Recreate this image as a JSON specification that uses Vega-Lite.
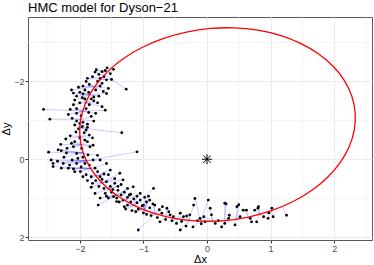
{
"$schema": "https://vega.github.io/schema/vega-lite/v6.json",
"width": 344,
"height": 223,
"autosize": "none",
"padding": {"left": 28, "top": 17, "right": 2, "bottom": 25},
"background": "white",
"title": {"text": "HMC model for Dyson−21", "anchor": "start", "frame": "group", "fontSize": 13, "font": "Liberation Sans", "fontWeight": "normal", "color": "black", "offset": 2},
"config": {
  "view": {"stroke": "#595959", "strokeWidth": 1},
  "font": "Liberation Sans",
  "axis": {"domain": false, "gridColor": "#ebebeb", "gridWidth": 1, "tickColor": "#333333", "tickSize": 3, "tickWidth": 1, "labelColor": "#4d4d4d", "labelFontSize": 9, "labelPadding": 1, "titleFontSize": 11, "titleFontWeight": "normal", "titleColor": "black", "labelOverlap": false}
},
"datasets": {
  "gx": [{"x":-2.5},{"x":-1.5},{"x":-0.5},{"x":0.5},{"x":1.5},{"x":2.5}],
  "gy": [{"y":-3},{"y":-1},{"y":1}],
  "obs": [
    {"x":-1.76,"y":-2.24,"u":-1.566,"v":-2.246},
    {"x":-1.47,"y":-2.31,"u":-1.516,"v":-2.314},
    {"x":-1.27,"y":-1.80,"u":-1.606,"v":-2.170},
    {"x":-1.68,"y":-2.08,"u":-1.666,"v":-2.055},
    {"x":-1.58,"y":-2.04,"u":-1.666,"v":-2.055},
    {"x":-1.63,"y":-1.74,"u":-1.766,"v":-1.864},
    {"x":-1.55,"y":-1.82,"u":-1.766,"v":-1.864},
    {"x":-2.13,"y":-1.78,"u":-1.766,"v":-1.864},
    {"x":-2.08,"y":-1.52,"u":-1.837,"v":-1.658},
    {"x":-1.58,"y":-1.69,"u":-1.837,"v":-1.658},
    {"x":-1.70,"y":-2.18,"u":-1.606,"v":-2.170},
    {"x":-1.65,"y":-2.25,"u":-1.566,"v":-2.246},
    {"x":-1.80,"y":-2.12,"u":-1.666,"v":-2.055},
    {"x":-1.62,"y":-2.12,"u":-1.606,"v":-2.170},
    {"x":-1.52,"y":-2.20,"u":-1.566,"v":-2.246},
    {"x":-1.72,"y":-2.00,"u":-1.666,"v":-2.055},
    {"x":-1.90,"y":-2.00,"u":-1.766,"v":-1.864},
    {"x":-1.95,"y":-1.88,"u":-1.766,"v":-1.864},
    {"x":-1.85,"y":-1.92,"u":-1.766,"v":-1.864},
    {"x":-2.00,"y":-1.72,"u":-1.837,"v":-1.658},
    {"x":-1.92,"y":-1.78,"u":-1.837,"v":-1.658},
    {"x":-1.75,"y":-1.78,"u":-1.766,"v":-1.864},
    {"x":-1.68,"y":-1.88,"u":-1.766,"v":-1.864},
    {"x":-2.05,"y":-1.62,"u":-1.837,"v":-1.658},
    {"x":-1.96,"y":-1.58,"u":-1.908,"v":-1.451},
    {"x":-1.78,"y":-1.60,"u":-1.837,"v":-1.658},
    {"x":-1.70,"y":-1.62,"u":-1.837,"v":-1.658},
    {"x":-1.86,"y":-1.72,"u":-1.837,"v":-1.658},
    {"x":-1.60,"y":-2.28,"u":-1.566,"v":-2.246},
    {"x":-1.50,"y":-2.05,"u":-1.666,"v":-2.055},
    {"x":-1.88,"y":-2.08,"u":-1.666,"v":-2.055},
    {"x":-2.02,"y":-1.85,"u":-1.766,"v":-1.864},
    {"x":-1.65,"y":-1.95,"u":-1.766,"v":-1.864},
    {"x":-1.82,"y":-1.55,"u":-1.908,"v":-1.451},
    {"x":-2.57,"y":-1.28,"u":-1.947,"v":-1.237},
    {"x":-2.47,"y":-1.03,"u":-1.986,"v":-1.022},
    {"x":-1.34,"y":-0.68,"u":-1.993,"v":-0.806},
    {"x":-1.60,"y":-1.26,"u":-1.947,"v":-1.237},
    {"x":-1.72,"y":-1.45,"u":-1.908,"v":-1.451},
    {"x":-1.65,"y":-1.35,"u":-1.908,"v":-1.451},
    {"x":-1.75,"y":-1.18,"u":-1.947,"v":-1.237},
    {"x":-2.10,"y":-1.40,"u":-1.908,"v":-1.451},
    {"x":-2.15,"y":-1.28,"u":-1.947,"v":-1.237},
    {"x":-2.05,"y":-1.18,"u":-1.947,"v":-1.237},
    {"x":-1.90,"y":-1.30,"u":-1.947,"v":-1.237},
    {"x":-1.85,"y":-1.40,"u":-1.908,"v":-1.451},
    {"x":-2.00,"y":-1.45,"u":-1.908,"v":-1.451},
    {"x":-1.82,"y":-1.10,"u":-1.986,"v":-1.022},
    {"x":-2.12,"y":-1.05,"u":-1.986,"v":-1.022},
    {"x":-2.05,"y":-0.98,"u":-1.986,"v":-1.022},
    {"x":-1.95,"y":-0.95,"u":-1.986,"v":-1.022},
    {"x":-1.88,"y":-0.90,"u":-1.993,"v":-0.806},
    {"x":-2.08,"y":-0.88,"u":-1.993,"v":-0.806},
    {"x":-1.96,"y":-0.84,"u":-1.993,"v":-0.806},
    {"x":-2.02,"y":-0.78,"u":-1.993,"v":-0.806},
    {"x":-1.90,"y":-0.75,"u":-1.993,"v":-0.806},
    {"x":-1.93,"y":-0.68,"u":-1.999,"v":-0.589},
    {"x":-2.06,"y":-0.70,"u":-1.999,"v":-0.589},
    {"x":-1.85,"y":-0.62,"u":-1.999,"v":-0.589},
    {"x":-1.98,"y":-1.12,"u":-1.986,"v":-1.022},
    {"x":-1.78,"y":-0.98,"u":-1.986,"v":-1.022},
    {"x":-2.18,"y":-1.15,"u":-1.947,"v":-1.237},
    {"x":-1.92,"y":-1.55,"u":-1.908,"v":-1.451},
    {"x":-1.78,"y":-1.50,"u":-1.908,"v":-1.451},
    {"x":-2.00,"y":-0.92,"u":-1.993,"v":-0.806},
    {"x":-1.88,"y":-0.82,"u":-1.993,"v":-0.806},
    {"x":-2.49,"y":-0.18,"u":-1.947,"v":-0.165},
    {"x":-2.45,"y":0.02,"u":-1.889,"v":0.037},
    {"x":-2.42,"y":0.11,"u":-1.889,"v":0.037},
    {"x":-2.42,"y":0.19,"u":-1.830,"v":0.238},
    {"x":-2.34,"y":-0.24,"u":-1.947,"v":-0.165},
    {"x":-2.29,"y":-0.22,"u":-1.947,"v":-0.165},
    {"x":-2.21,"y":-0.16,"u":-1.947,"v":-0.165},
    {"x":-2.29,"y":0.23,"u":-1.830,"v":0.238},
    {"x":-2.18,"y":0.23,"u":-1.830,"v":0.238},
    {"x":-2.26,"y":0.11,"u":-1.889,"v":0.037},
    {"x":-2.16,"y":0.15,"u":-1.889,"v":0.037},
    {"x":-2.05,"y":0.11,"u":-1.889,"v":0.037},
    {"x":-2.05,"y":-0.15,"u":-1.947,"v":-0.165},
    {"x":-2.10,"y":-0.32,"u":-1.973,"v":-0.377},
    {"x":-2.13,"y":-0.41,"u":-1.973,"v":-0.377},
    {"x":-2.03,"y":-0.02,"u":-1.947,"v":-0.165},
    {"x":-1.92,"y":0.11,"u":-1.889,"v":0.037},
    {"x":-1.87,"y":-0.11,"u":-1.947,"v":-0.165},
    {"x":-1.79,"y":0.02,"u":-1.889,"v":0.037},
    {"x":-1.76,"y":0.23,"u":-1.830,"v":0.238},
    {"x":-1.97,"y":-0.28,"u":-1.973,"v":-0.377},
    {"x":-2.08,"y":-0.45,"u":-1.973,"v":-0.377},
    {"x":-1.92,"y":-0.49,"u":-1.999,"v":-0.589},
    {"x":-1.99,"y":0.32,"u":-1.830,"v":0.238},
    {"x":-2.08,"y":0.32,"u":-1.830,"v":0.238},
    {"x":-1.84,"y":-0.32,"u":-1.973,"v":-0.377},
    {"x":-1.79,"y":-0.36,"u":-1.973,"v":-0.377},
    {"x":-1.68,"y":0.02,"u":-1.889,"v":0.037},
    {"x":-1.58,"y":0.11,"u":-1.830,"v":0.238},
    {"x":-1.10,"y":-0.19,"u":-1.889,"v":0.037},
    {"x":-2.25,"y":-0.05,"u":-1.947,"v":-0.165},
    {"x":-2.12,"y":0.02,"u":-1.889,"v":0.037},
    {"x":-1.98,"y":0.20,"u":-1.830,"v":0.238},
    {"x":-2.00,"y":-0.55,"u":-1.999,"v":-0.589},
    {"x":-2.15,"y":-0.60,"u":-1.999,"v":-0.589},
    {"x":-1.88,"y":-0.45,"u":-1.973,"v":-0.377},
    {"x":-2.35,"y":0.05,"u":-1.889,"v":0.037},
    {"x":-2.20,"y":-0.28,"u":-1.973,"v":-0.377},
    {"x":-1.95,"y":-0.05,"u":-1.889,"v":0.037},
    {"x":-1.85,"y":0.15,"u":-1.889,"v":0.037},
    {"x":-2.10,"y":0.25,"u":-1.830,"v":0.238},
    {"x":-1.72,"y":-0.10,"u":-1.947,"v":-0.165},
    {"x":-1.76,"y":0.88,"u":-1.537,"v":0.766},
    {"x":-1.71,"y":1.18,"u":-1.420,"v":0.927},
    {"x":-1.68,"y":1.00,"u":-1.420,"v":0.927},
    {"x":-1.47,"y":0.96,"u":-1.420,"v":0.927},
    {"x":-1.42,"y":1.09,"u":-1.280,"v":1.061},
    {"x":-0.84,"y":0.75,"u":-1.140,"v":1.194},
    {"x":-1.52,"y":0.28,"u":-1.742,"v":0.422},
    {"x":-1.37,"y":0.36,"u":-1.653,"v":0.605},
    {"x":-1.32,"y":0.53,"u":-1.653,"v":0.605},
    {"x":-1.16,"y":0.71,"u":-1.420,"v":0.927},
    {"x":-1.05,"y":0.88,"u":-1.280,"v":1.061},
    {"x":-1.90,"y":0.40,"u":-1.742,"v":0.422},
    {"x":-1.82,"y":0.45,"u":-1.742,"v":0.422},
    {"x":-1.75,"y":0.55,"u":-1.653,"v":0.605},
    {"x":-1.68,"y":0.45,"u":-1.742,"v":0.422},
    {"x":-1.62,"y":0.38,"u":-1.742,"v":0.422},
    {"x":-1.80,"y":0.62,"u":-1.653,"v":0.605},
    {"x":-1.70,"y":0.70,"u":-1.653,"v":0.605},
    {"x":-1.58,"y":0.58,"u":-1.653,"v":0.605},
    {"x":-1.62,"y":0.75,"u":-1.537,"v":0.766},
    {"x":-1.52,"y":0.70,"u":-1.537,"v":0.766},
    {"x":-1.45,"y":0.62,"u":-1.537,"v":0.766},
    {"x":-1.60,"y":0.88,"u":-1.537,"v":0.766},
    {"x":-1.50,"y":0.85,"u":-1.420,"v":0.927},
    {"x":-1.40,"y":0.80,"u":-1.420,"v":0.927},
    {"x":-1.35,"y":0.92,"u":-1.420,"v":0.927},
    {"x":-1.30,"y":0.85,"u":-1.280,"v":1.061},
    {"x":-1.25,"y":0.98,"u":-1.280,"v":1.061},
    {"x":-1.32,"y":1.05,"u":-1.280,"v":1.061},
    {"x":-1.20,"y":1.10,"u":-1.140,"v":1.194},
    {"x":-1.15,"y":1.02,"u":-1.140,"v":1.194},
    {"x":-1.10,"y":1.12,"u":-1.140,"v":1.194},
    {"x":-1.05,"y":1.05,"u":-0.980,"v":1.296},
    {"x":-1.00,"y":1.18,"u":-0.980,"v":1.296},
    {"x":-0.95,"y":1.10,"u":-0.980,"v":1.296},
    {"x":-1.08,"y":1.28,"u":-0.980,"v":1.296},
    {"x":-0.90,"y":1.25,"u":-0.820,"v":1.398},
    {"x":-0.85,"y":1.15,"u":-0.820,"v":1.398},
    {"x":-1.25,"y":1.18,"u":-1.140,"v":1.194},
    {"x":-1.38,"y":1.10,"u":-1.280,"v":1.061},
    {"x":-1.55,"y":1.00,"u":-1.420,"v":0.927},
    {"x":-1.45,"y":0.50,"u":-1.653,"v":0.605},
    {"x":-1.72,"y":0.32,"u":-1.742,"v":0.422},
    {"x":-1.88,"y":0.55,"u":-1.742,"v":0.422},
    {"x":-1.95,"y":0.45,"u":-1.830,"v":0.238},
    {"x":-1.65,"y":0.52,"u":-1.653,"v":0.605},
    {"x":-1.40,"y":0.70,"u":-1.537,"v":0.766},
    {"x":-1.20,"y":0.90,"u":-1.280,"v":1.061},
    {"x":-1.10,"y":0.95,"u":-1.140,"v":1.194},
    {"x":-0.98,"y":0.98,"u":-0.980,"v":1.296},
    {"x":-1.30,"y":1.22,"u":-1.140,"v":1.194},
    {"x":-1.18,"y":1.32,"u":-0.980,"v":1.296},
    {"x":-1.00,"y":1.38,"u":-0.820,"v":1.398},
    {"x":-1.55,"y":0.40,"u":-1.742,"v":0.422},
    {"x":-1.48,"y":0.78,"u":-1.537,"v":0.766},
    {"x":-1.35,"y":0.65,"u":-1.537,"v":0.766},
    {"x":-1.25,"y":0.75,"u":-1.420,"v":0.927},
    {"x":-0.92,"y":0.95,"u":-0.980,"v":1.296},
    {"x":-1.58,"y":0.95,"u":-1.420,"v":0.927},
    {"x":-1.82,"y":0.72,"u":-1.653,"v":0.605},
    {"x":-0.82,"y":1.18,"u":-0.820,"v":1.398},
    {"x":-0.63,"y":1.26,"u":-0.645,"v":1.465},
    {"x":-0.71,"y":1.39,"u":-0.820,"v":1.398},
    {"x":-0.58,"y":1.43,"u":-0.645,"v":1.465},
    {"x":-0.53,"y":1.48,"u":-0.469,"v":1.532},
    {"x":-0.42,"y":1.39,"u":-0.469,"v":1.532},
    {"x":-0.37,"y":1.48,"u":-0.469,"v":1.532},
    {"x":-0.32,"y":1.46,"u":-0.284,"v":1.562},
    {"x":-0.27,"y":1.43,"u":-0.284,"v":1.562},
    {"x":-0.21,"y":1.18,"u":-0.284,"v":1.562},
    {"x":-0.19,"y":1.01,"u":-0.099,"v":1.592},
    {"x":-0.48,"y":1.65,"u":-0.469,"v":1.532},
    {"x":-0.74,"y":1.61,"u":-0.645,"v":1.465},
    {"x":0.02,"y":1.05,"u":-0.099,"v":1.592},
    {"x":0.05,"y":1.26,"u":0.090,"v":1.585},
    {"x":0.07,"y":1.43,"u":0.090,"v":1.585},
    {"x":0.13,"y":1.65,"u":0.090,"v":1.585},
    {"x":-0.03,"y":1.61,"u":-0.099,"v":1.592},
    {"x":0.28,"y":1.13,"u":0.278,"v":1.577},
    {"x":0.34,"y":1.52,"u":0.278,"v":1.577},
    {"x":0.28,"y":1.65,"u":0.278,"v":1.577},
    {"x":0.47,"y":1.22,"u":0.465,"v":1.532},
    {"x":0.52,"y":1.48,"u":0.465,"v":1.532},
    {"x":0.57,"y":1.31,"u":0.652,"v":1.486},
    {"x":0.70,"y":1.61,"u":0.652,"v":1.486},
    {"x":0.75,"y":1.31,"u":0.832,"v":1.405},
    {"x":0.81,"y":1.22,"u":0.832,"v":1.405},
    {"x":0.89,"y":1.48,"u":0.832,"v":1.405},
    {"x":1.02,"y":1.26,"u":1.012,"v":1.324},
    {"x":1.04,"y":1.48,"u":1.012,"v":1.324},
    {"x":1.25,"y":1.44,"u":1.179,"v":1.209},
    {"x":-1.08,"y":1.82,"u":-0.820,"v":1.398},
    {"x":-0.42,"y":1.82,"u":-0.284,"v":1.562},
    {"x":-0.33,"y":1.72,"u":-0.284,"v":1.562},
    {"x":-0.22,"y":1.74,"u":-0.099,"v":1.592},
    {"x":0.23,"y":1.74,"u":0.278,"v":1.577},
    {"x":0.44,"y":1.69,"u":0.465,"v":1.532},
    {"x":0.78,"y":1.61,"u":0.832,"v":1.405},
    {"x":0.96,"y":1.52,"u":1.012,"v":1.324},
    {"x":0.97,"y":1.38,"u":1.012,"v":1.324},
    {"x":0.80,"y":1.26,"u":0.832,"v":1.405},
    {"x":0.62,"y":1.31,"u":0.652,"v":1.486},
    {"x":0.18,"y":1.58,"u":0.090,"v":1.585},
    {"x":-0.11,"y":1.52,"u":-0.099,"v":1.592},
    {"x":-0.09,"y":1.66,"u":-0.099,"v":1.592},
    {"x":0.35,"y":1.44,"u":0.465,"v":1.532},
    {"x":0.68,"y":1.52,"u":0.652,"v":1.486},
    {"x":0.30,"y":1.15,"u":0.278,"v":1.577},
    {"x":0.50,"y":1.17,"u":0.465,"v":1.532},
    {"x":-0.90,"y":1.05,"u":-0.980,"v":1.296},
    {"x":-0.65,"y":1.55,"u":-0.645,"v":1.465},
    {"x":-0.55,"y":1.58,"u":-0.469,"v":1.532},
    {"x":-0.75,"y":1.30,"u":-0.820,"v":1.398},
    {"x":-0.88,"y":1.45,"u":-0.820,"v":1.398},
    {"x":-0.95,"y":1.42,"u":-0.980,"v":1.296},
    {"x":-0.60,"y":1.35,"u":-0.645,"v":1.465},
    {"x":-0.40,"y":1.60,"u":-0.284,"v":1.562},
    {"x":-0.15,"y":1.58,"u":-0.099,"v":1.592},
    {"x":-0.05,"y":1.48,"u":0.090,"v":1.585},
    {"x":-0.70,"y":1.22,"u":-0.820,"v":1.398},
    {"x":-1.02,"y":1.20,"u":-0.980,"v":1.296},
    {"x":-1.28,"y":1.28,"u":-1.140,"v":1.194},
    {"x":-1.12,"y":1.35,"u":-0.980,"v":1.296},
    {"x":-0.78,"y":1.50,"u":-0.820,"v":1.398},
    {"x":-1.22,"y":0.92,"u":-1.280,"v":1.061},
    {"x":-1.42,"y":1.00,"u":-1.420,"v":0.927},
    {"x":-2.22,"y":-0.52,"u":-1.999,"v":-0.589},
    {"x":-2.30,"y":-0.38,"u":-1.973,"v":-0.377},
    {"x":-1.80,"y":-0.55,"u":-1.999,"v":-0.589},
    {"x":-2.05,"y":-1.30,"u":-1.947,"v":-1.237},
    {"x":-1.86,"y":-1.20,"u":-1.947,"v":-1.237},
    {"x":-1.74,"y":-2.30,"u":-1.566,"v":-2.246},
    {"x":-1.57,"y":-2.35,"u":-1.516,"v":-2.314},
    {"x":-1.95,"y":-1.68,"u":-1.837,"v":-1.658},
    {"x":-2.10,"y":-1.70,"u":-1.837,"v":-1.658}
  ],
  "ell": [
    {"i":0,"x":1.643,"y":0.804},{"i":1,"x":1.896,"y":0.462},{"i":2,"x":2.096,"y":0.080},{"i":3,"x":2.238,"y":-0.333},
    {"i":4,"x":2.316,"y":-0.762},{"i":5,"x":2.329,"y":-1.196},{"i":6,"x":2.277,"y":-1.620},{"i":7,"x":2.160,"y":-2.022},
    {"i":8,"x":1.983,"y":-2.390},{"i":9,"x":1.750,"y":-2.711},{"i":10,"x":1.470,"y":-2.978},{"i":11,"x":1.150,"y":-3.182},
    {"i":12,"x":0.799,"y":-3.316},{"i":13,"x":0.429,"y":-3.376},{"i":14,"x":0.052,"y":-3.361},{"i":15,"x":-0.322,"y":-3.270},
    {"i":16,"x":-0.682,"y":-3.108},{"i":17,"x":-1.015,"y":-2.878},{"i":18,"x":-1.313,"y":-2.588},{"i":19,"x":-1.566,"y":-2.246},
    {"i":20,"x":-1.766,"y":-1.864},{"i":21,"x":-1.908,"y":-1.451},{"i":22,"x":-1.986,"y":-1.022},{"i":23,"x":-1.999,"y":-0.589},
    {"i":24,"x":-1.947,"y":-0.165},{"i":25,"x":-1.830,"y":0.238},{"i":26,"x":-1.653,"y":0.605},{"i":27,"x":-1.420,"y":0.927},
    {"i":28,"x":-1.140,"y":1.194},{"i":29,"x":-0.820,"y":1.398},{"i":30,"x":-0.469,"y":1.532},{"i":31,"x":-0.099,"y":1.592},
    {"i":32,"x":0.278,"y":1.577},{"i":33,"x":0.652,"y":1.486},{"i":34,"x":1.012,"y":1.324},{"i":35,"x":1.345,"y":1.094}
  ],
  "ctr": [{"x":0,"y":0}]
},
"layer": [
  {"data": {"name": "gx"}, "mark": {"type": "rule", "color": "#ebebeb", "strokeWidth": 0.6},
   "encoding": {"x": {"field": "x", "type": "quantitative"}}},
  {"data": {"name": "gy"}, "mark": {"type": "rule", "color": "#ebebeb", "strokeWidth": 0.6},
   "encoding": {"y": {"field": "y", "type": "quantitative"}}},
  {"data": {"name": "obs"}, "mark": {"type": "rule", "color": "blue", "opacity": 0.2, "strokeWidth": 1},
   "encoding": {
     "x": {"field": "x", "type": "quantitative",
       "scale": {"domain": [-2.814, 2.594], "nice": false, "zero": false},
       "axis": {"title": "Δx", "values": [-2,-1,0,1,2], "format": "d", "grid": true, "titlePadding": 0}},
     "y": {"field": "y", "type": "quantitative",
       "scale": {"domain": [-3.656, 2.077], "nice": false, "zero": false, "reverse": true},
       "axis": {"title": "Δy", "values": [-2,0,2], "format": "d", "grid": true, "titlePadding": 2}},
     "x2": {"field": "u"}, "y2": {"field": "v"}}},
  {"data": {"name": "obs"}, "mark": {"type": "point", "filled": true, "color": "black", "opacity": 1, "size": 8, "strokeWidth": 0},
   "encoding": {"x": {"field": "x", "type": "quantitative"}, "y": {"field": "y", "type": "quantitative"}}},
  {"data": {"name": "ell"}, "mark": {"type": "line", "color": "red", "strokeWidth": 1.3, "interpolate": "cardinal-closed"},
   "encoding": {"x": {"field": "x", "type": "quantitative"}, "y": {"field": "y", "type": "quantitative"}, "order": {"field": "i", "type": "quantitative"}}},
  {"data": {"name": "ctr"}, "mark": {"type": "point", "shape": "M-1,0L1,0M0,-1L0,1M-0.75,-0.75L0.75,0.75M-0.75,0.75L0.75,-0.75", "filled": false, "color": "black", "opacity": 1, "size": 100, "strokeWidth": 1},
   "encoding": {"x": {"field": "x", "type": "quantitative"}, "y": {"field": "y", "type": "quantitative"}}}
]
}
